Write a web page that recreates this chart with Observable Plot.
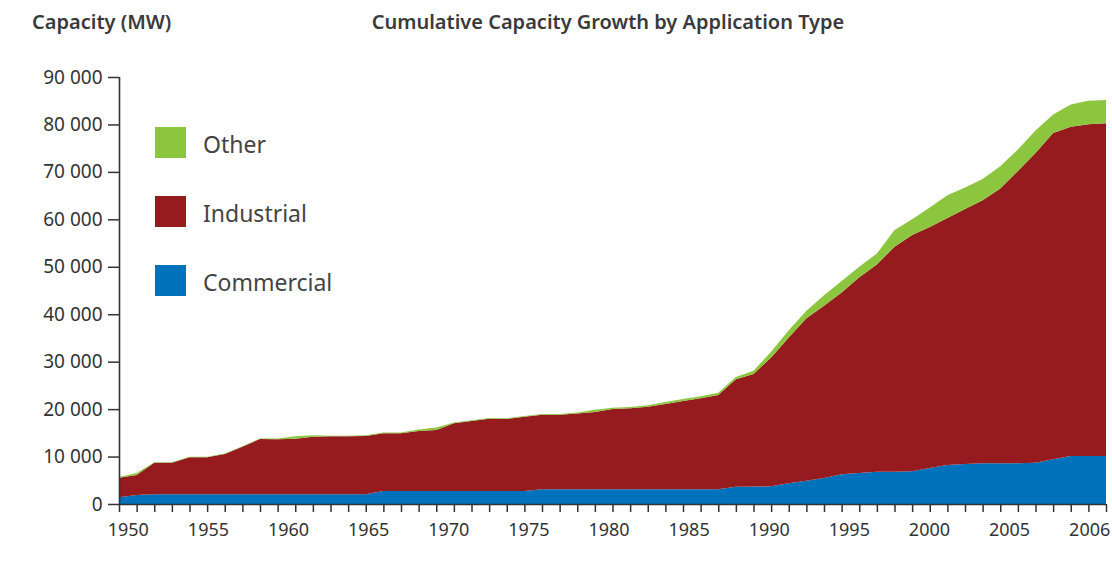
<!DOCTYPE html>
<html>
<head>
<meta charset="utf-8">
<script src="https://cdn.jsdelivr.net/npm/d3@7"></script>
<script src="https://cdn.jsdelivr.net/npm/@observablehq/plot@0.6"></script>
<style>
  body { margin: 0; background: #fff; }
  #wrap { position: relative; width: 1112px; height: 561px; overflow: hidden; font-family: "Noto Sans", sans-serif; color: #333; }
  #chart { position: absolute; left: 0; top: 0; }
  .t { position: absolute; white-space: nowrap; line-height: 1; }
  .title { font-size: 20px; font-weight: 600; color: #3a3a3a; }
  .sw { position: absolute; width: 31px; height: 31px; }
  .lg { font-size: 23px; color: #444; }
</style>
</head>
<body>
<div id="wrap">
  <div id="chart"></div>
  <div class="t title" style="left:32px; top:12px;">Capacity (MW)</div>
  <div class="t title" style="left:608px; top:12px; transform:translateX(-50%);">Cumulative Capacity Growth by Application Type</div>
  <div id="legend"></div>
</div>
<script>
// ---- data ----
const years = d3.range(1950, 2007);
const types = ["Commercial", "Industrial", "Other"];
const colors = ["#0071bb", "#961b1f", "#8cc63f"];
const commercial = [
  1400, 1900, 2040, 2040, 2040, 2040, 2040, 2040, 2040, 2040,
  2040, 2040, 2040, 2040, 2040, 2740, 2740, 2740, 2740, 2740,
  2740, 2740, 2740, 2740, 3090, 3090, 3090, 3090, 3090, 3090,
  3090, 3090, 3090, 3090, 3090, 3650, 3700, 3720, 4360, 4920,
  5480, 6260, 6530, 6810, 6810, 6880, 7590, 8220, 8430, 8580,
  8580, 8580, 8720, 9420, 10120, 10120, 10120
];
const industrial = [
  4140, 4210, 6660, 6660, 7800, 7800, 8500, 10040, 11660, 11590,
  11730, 12150, 12220, 12220, 12290, 12160, 12160, 12650, 12860, 14260,
  14760, 15250, 15180, 15670, 15740, 15710, 15960, 16310, 16940, 17080,
  17430, 17990, 18620, 19190, 19890, 22640, 23700, 27180, 30740, 34220,
  36320, 38340, 41270, 43690, 47430, 49820, 50810, 52080, 53770, 55420,
  57920, 61620, 65280, 68780, 69420, 69930, 70130
];
const other = [
  150, 400, 100, 100, 100, 100, 100, 100, 100, 150,
  500, 300, 150, 150, 150, 150, 150, 300, 500, 200,
  150, 150, 150, 150, 150, 150, 250, 450, 250, 300,
  300, 400, 400, 450, 450, 500, 700, 1200, 1500, 1600,
  2200, 2400, 2200, 2300, 3500, 3300, 4100, 4800, 4500, 4500,
  4700, 4500, 4700, 3900, 4660, 4950, 4910
];
const yTicks = [0, 10000, 20000, 30000, 40000, 50000, 60000, 70000, 80000, 90000];
const xTickLabels = ["1950", "1955", "1960", "1965", "1970", "1975", "1980", "1985", "1990", "1995", "2000", "2005", "2006"];
const legendOrder = ["Other", "Industrial", "Commercial"];

// ---- table ----
const series = {Commercial: commercial, Industrial: industrial, Other: other};
const data = years.flatMap((yr, i) => types.map(t => ({year: yr, type: t, value: series[t][i]})));

const fmt = d => d === 0 ? "0" : d3.format(",")(d).replace(",", " ");
// labels are spread evenly along the axis, as in the original
const labelSlot = (d, i) => 1950.5 + i * 50 / 11;

const chart = Plot.plot({
  width: 1112,
  height: 561,
  marginLeft: 119,
  marginRight: 6,
  marginTop: 77,
  marginBottom: 57,
  style: {fontFamily: "Noto Sans, sans-serif", fontSize: "18px", color: "#333", background: "transparent", overflow: "visible"},
  x: {domain: [1950, 2006]},
  y: {domain: [0, 90000]},
  color: {domain: types, range: colors},
  marks: [
    Plot.areaY(data, {x: "year", y: "value", fill: "type", order: types, curve: "linear"}),
    Plot.ruleX([1950], {stroke: "#333", strokeWidth: 1.6}),
    Plot.ruleY([0], {stroke: "#333", strokeWidth: 1.6}),
    Plot.axisY({ticks: yTicks, tickSize: 11, tickPadding: 6, tickFormat: fmt, fontSize: 19, stroke: "#333", strokeWidth: 1.5, label: null}),
    Plot.axisX({ticks: years, tickSize: 8, tickFormat: () => "", stroke: "#333", strokeWidth: 1.5, label: null}),
    Plot.text(xTickLabels, {x: labelSlot, y: 0, dy: 26, text: d => d, fontSize: 18, fill: "#333"})
  ]
});
document.getElementById("chart").appendChild(chart);

// ---- legend ----
const legend = document.getElementById("legend");
const colorOf = Object.fromEntries(types.map((t, i) => [t, colors[i]]));
legendOrder.forEach((t, i) => {
  const top = 127 + i * 69;
  const sw = document.createElement("div");
  sw.className = "sw";
  sw.style.left = "155px";
  sw.style.top = top + "px";
  sw.style.background = colorOf[t];
  legend.appendChild(sw);
  const lab = document.createElement("div");
  lab.className = "t lg";
  lab.style.left = "203px";
  lab.style.top = (top + 6) + "px";
  lab.textContent = t;
  legend.appendChild(lab);
});
</script>
</body>
</html>
